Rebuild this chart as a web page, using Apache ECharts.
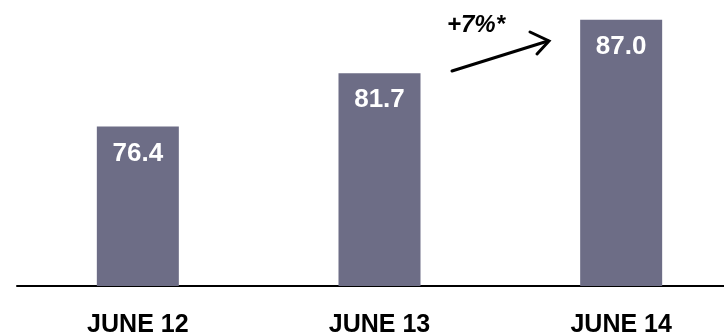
<!DOCTYPE html>
<html>
<head>
<meta charset="utf-8">
<script src="https://cdn.jsdelivr.net/npm/echarts@6/dist/echarts.min.js"></script>
<style>
html,body{margin:0;padding:0;background:#fff;}
#chart{width:724px;height:333px;}
</style>
</head>
<body>
<div id="chart"></div>
<script>
var categories = ['JUNE 12', 'JUNE 13', 'JUNE 14'];
var values = [76.4, 81.7, 87.0];
var growthLabel = '+7%*';

var FONT = '"Liberation Sans", Arial, sans-serif';
var chart = echarts.init(document.getElementById('chart'), null, {renderer: 'canvas'});
chart.setOption({
  animation: false,
  backgroundColor: '#ffffff',
  grid: {left: 17, width: 725, top: 19.7, bottom: 47, containLabel: false, outerBoundsMode: 'none'},
  xAxis: {
    type: 'category',
    data: categories,
    axisLine: {show: true, lineStyle: {color: '#000', width: 2}},
    axisTick: {show: false},
    axisLabel: {
      color: '#000', fontFamily: FONT, fontWeight: 'bold', fontSize: 25, margin: 27
    }
  },
  yAxis: {
    type: 'value', min: 60.6, max: 87.0, show: false,
    splitLine: {show: false}
  },
  series: [{
    type: 'bar',
    data: values,
    barWidth: 82,
    itemStyle: {color: '#6d6d86'},
    label: {
      show: true, position: 'insideTop', distance: 14,
      color: '#fff', fontFamily: FONT, fontWeight: 'bold', fontSize: 26,
      formatter: function (p) { return p.value.toFixed(1); }
    }
  }],
  graphic: [
    {type: 'text', left: 447, top: 13,
     style: {text: growthLabel, fill: '#000', font: 'italic bold 24px ' + FONT}},
    {type: 'line', shape: {x1: 452, y1: 71, x2: 548, y2: 41},
     style: {stroke: '#000', lineWidth: 3, lineCap: 'round'}},
    {type: 'polyline', shape: {points: [[530, 32], [549, 41], [537, 54]]},
     style: {stroke: '#000', lineWidth: 3, fill: null, lineJoin: 'miter', lineCap: 'round'}}
  ]
});
</script>
</body>
</html>
